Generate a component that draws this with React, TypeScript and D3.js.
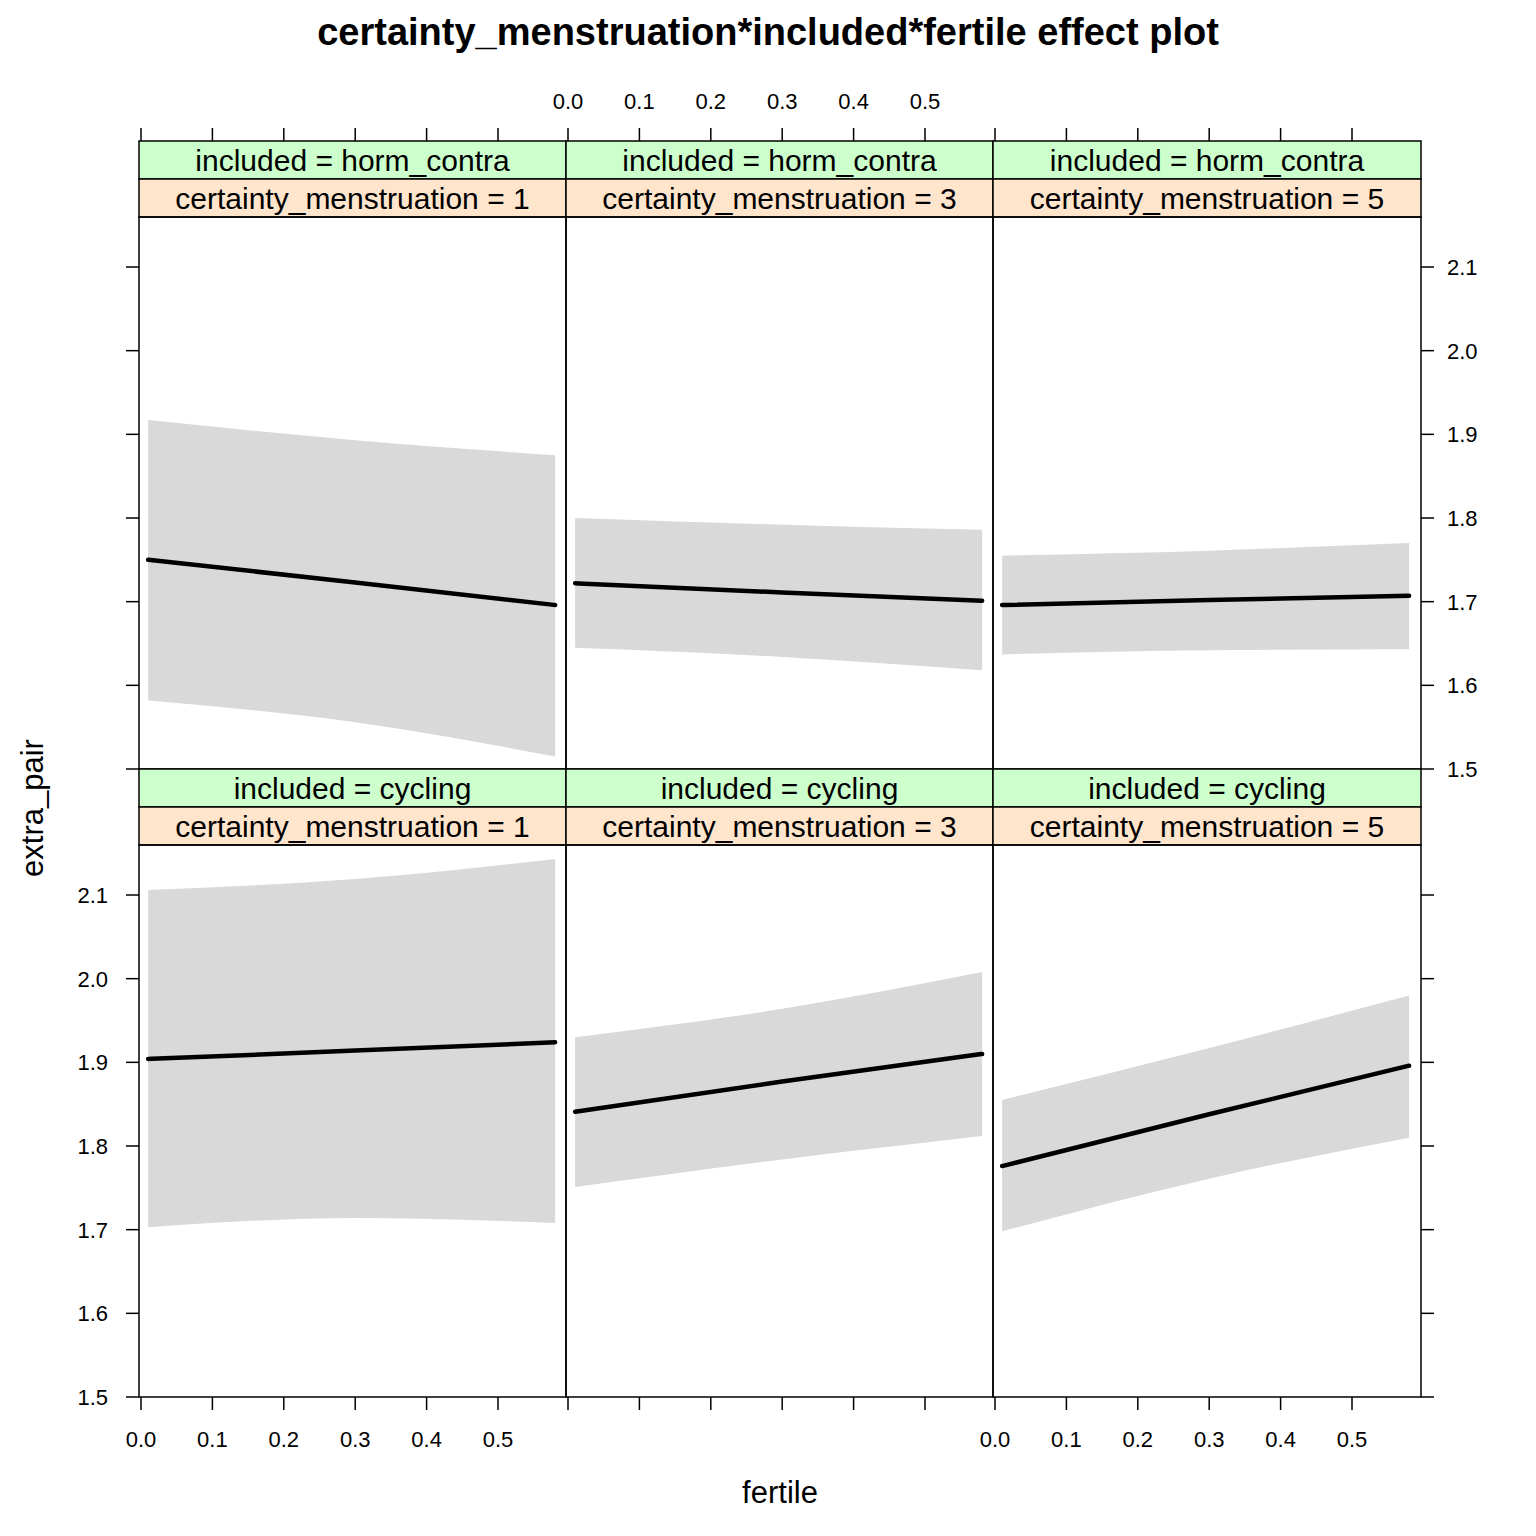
import React from "react";
import * as d3 from "d3";

const xs = [0.01, 0.3, 0.58];
const colLabels = ["certainty_menstruation = 1", "certainty_menstruation = 3", "certainty_menstruation = 5"];
const rowLabels = ["included = horm_contra", "included = cycling"];
// [row][col]
const fitVals = [
  [[1.75, 1.723, 1.696], [1.722, 1.711, 1.701], [1.696, 1.702, 1.707]],
  [[1.904, 1.914, 1.924], [1.841, 1.877, 1.910], [1.776, 1.838, 1.896]],
];
const upperVals = [
  [[1.917, 1.893, 1.875], [1.800, 1.792, 1.786], [1.755, 1.761, 1.770]],
  [[2.106, 2.119, 2.143], [1.930, 1.964, 2.008], [1.855, 1.917, 1.980]],
];
const lowerVals = [
  [[1.582, 1.556, 1.515], [1.645, 1.634, 1.618], [1.637, 1.642, 1.643]],
  [[1.703, 1.714, 1.708], [1.751, 1.784, 1.812], [1.698, 1.761, 1.810]],
];
const xTicks = [0, 0.1, 0.2, 0.3, 0.4, 0.5];
const yTicks = [1.5, 1.6, 1.7, 1.8, 1.9, 2.0, 2.1];

const colX = [139, 566, 993, 1421];
const rowTop = [141, 769];
const stripH = 38;
const plotH = 552;
const font = "Liberation Sans, Arial, sans-serif";

export default function App() {
  const x = (c: number) => d3.scaleLinear().domain([0, 0.5]).range([colX[c] + 2, colX[c] + 2 + 357]);
  const y = (r: number) => {
    const b = rowTop[r] + 2 * stripH + plotH;
    return d3.scaleLinear().domain([1.5, 2.1]).range([b, b - 502]);
  };
  const els: any[] = [];
  for (let r = 0; r < 2; r++) {
    for (let c = 0; c < 3; c++) {
      const sx = x(c), sy = y(r);
      const pTop = rowTop[r] + 2 * stripH;
      const area = d3.area<number>().x((_, i) => sx(xs[i])).y0((_, i) => sy(lowerVals[r][c][i])).y1((_, i) => sy(upperVals[r][c][i])).curve(d3.curveMonotoneX);
      const line = d3.line<number>().x((_, i) => sx(xs[i])).y((v) => sy(v)).curve(d3.curveMonotoneX);
      els.push(<path key={`a${r}${c}`} d={area(xs)!} fill="#d9d9d9" />);
      els.push(<path key={`l${r}${c}`} d={line(fitVals[r][c])!} fill="none" stroke="#000" strokeWidth={4.5} strokeLinecap="round" />);
      els.push(<rect key={`s1${r}${c}`} x={colX[c]} y={rowTop[r]} width={colX[c + 1] - colX[c]} height={stripH} fill="#ccffcc" stroke="#000" strokeWidth={1.5} />);
      els.push(<rect key={`s2${r}${c}`} x={colX[c]} y={rowTop[r] + stripH} width={colX[c + 1] - colX[c]} height={stripH} fill="#ffe5cc" stroke="#000" strokeWidth={1.5} />);
      const cx = (colX[c] + colX[c + 1]) / 2;
      els.push(<text key={`t1${r}${c}`} x={cx} y={rowTop[r] + 30} textAnchor="middle" fontSize={30}>{rowLabels[r]}</text>);
      els.push(<text key={`t2${r}${c}`} x={cx} y={rowTop[r] + stripH + 30} textAnchor="middle" fontSize={30}>{colLabels[c]}</text>);
      els.push(<rect key={`p${r}${c}`} x={colX[c]} y={pTop} width={colX[c + 1] - colX[c]} height={plotH} fill="none" stroke="#000" strokeWidth={1.5} />);
    }
  }
  for (let c = 0; c < 3; c++) {
    const sx = x(c);
    const bottomY = rowTop[1] + 2 * stripH + plotH;
    xTicks.forEach((t, i) => {
      els.push(<line key={`xb${c}${i}`} x1={sx(t)} x2={sx(t)} y1={bottomY} y2={bottomY + 13} stroke="#000" strokeWidth={1.5} />);
      els.push(<line key={`xt${c}${i}`} x1={sx(t)} x2={sx(t)} y1={141} y2={128} stroke="#000" strokeWidth={1.5} />);
      if (c !== 1) els.push(<text key={`xbl${c}${i}`} x={sx(t)} y={bottomY + 50} textAnchor="middle" fontSize={22}>{t.toFixed(1)}</text>);
      if (c === 1) els.push(<text key={`xtl${c}${i}`} x={sx(t)} y={109} textAnchor="middle" fontSize={22}>{t.toFixed(1)}</text>);
    });
  }
  for (let r = 0; r < 2; r++) {
    const sy = y(r);
    yTicks.forEach((t, i) => {
      els.push(<line key={`yl${r}${i}`} x1={139} x2={126} y1={sy(t)} y2={sy(t)} stroke="#000" strokeWidth={1.5} />);
      els.push(<line key={`yr${r}${i}`} x1={1421} x2={1434} y1={sy(t)} y2={sy(t)} stroke="#000" strokeWidth={1.5} />);
      if (r === 1) els.push(<text key={`yll${i}`} x={108} y={sy(t) + 8} textAnchor="end" fontSize={22}>{t.toFixed(1)}</text>);
      if (r === 0) els.push(<text key={`yrl${i}`} x={1447} y={sy(t) + 8} textAnchor="start" fontSize={22}>{t.toFixed(1)}</text>);
    });
  }
  return (
    <svg width={1536} height={1536} style={{ position: "absolute", left: 0, top: 0, background: "#fff" }} fontFamily={font}>
      <rect width={1536} height={1536} fill="#fff" />
      <text x={768} y={45} textAnchor="middle" fontSize={38} fontWeight="bold">certainty_menstruation*included*fertile effect plot</text>
      {els}
      <text x={780} y={1503} textAnchor="middle" fontSize={31}>fertile</text>
      <text transform="translate(43,808) rotate(-90)" textAnchor="middle" fontSize={31}>extra_pair</text>
    </svg>
  );
}
